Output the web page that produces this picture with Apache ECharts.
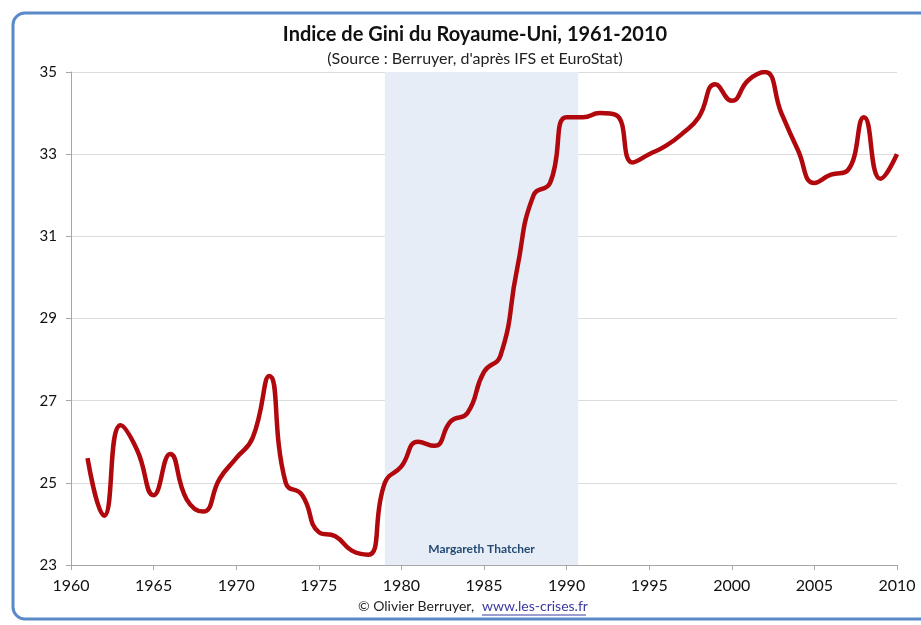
<!DOCTYPE html>
<html>
<head>
<meta charset="utf-8">
<script src="https://cdn.jsdelivr.net/npm/echarts@6/dist/echarts.min.js"></script>
<style>
  html, body { margin: 0; padding: 0; background: #fff; }
  #chart { width: 921px; height: 625px; }
</style>
</head>
<body>
<div id="chart"></div>
<script>
var years = [1961, 1962, 1963, 1964, 1965, 1966, 1967, 1968, 1969, 1970,
    1971, 1972, 1973, 1974, 1975, 1976, 1977, 1978, 1979, 1980,
    1981, 1982, 1983, 1984, 1985, 1986, 1987, 1988, 1989, 1990,
    1991, 1992, 1993, 1994, 1995, 1996, 1997, 1998, 1999, 2000,
    2001, 2002, 2003, 2004, 2005, 2006, 2007, 2008, 2009, 2010];
var gini = [25.6, 24.2, 26.4, 25.8, 24.7, 25.7, 24.6, 24.3, 25.1, 25.6,
    26.1, 27.6, 25.0, 24.7, 23.8, 23.7, 23.35, 23.25, 25.0, 25.4,
    26.0, 25.9, 26.5, 26.7, 27.7, 28.1, 30.2, 32.0, 32.3, 33.9,
    33.9, 34.0, 33.95, 32.8, 33.0, 33.2, 33.5, 33.9, 34.7, 34.3,
    34.8, 35.0, 34.0, 33.1, 32.3, 32.5, 32.6, 33.9, 32.4, 33.0];
var yTicks = [23, 25, 27, 29, 31, 33, 35];
var thatcher = [1979, 1990.7];

var font = 'Lato, "Liberation Sans", sans-serif';
var myChart = echarts.init(document.getElementById('chart'));

var seriesData = years.map(function (y, i) { return [y, gini[i]]; });

var option = {
    backgroundColor: '#fff',
    animation: false,
    title: {
        text: 'Indice de Gini du Royaume-Uni, 1961-2010',
        subtext: "(Source : Berruyer, d'après IFS et EuroStat)",
        left: 470,
        textAlign: 'center',
        top: 20,
        itemGap: 6,
        textStyle: { fontFamily: font, fontSize: 20, fontWeight: 'bold', color: '#111' },
        subtextStyle: { fontFamily: font, fontSize: 16, color: '#222' }
    },
    grid: { left: 71, right: 24, top: 72, bottom: 60 },
    xAxis: {
        type: 'value',
        min: 1960,
        max: 2010,
        interval: 5,
        axisLine: { lineStyle: { color: '#a6a6a6' } },
        axisTick: { show: true, length: 5, lineStyle: { color: '#a6a6a6' } },
        axisLabel: {
            fontFamily: font, fontSize: 16, color: '#111', margin: 13,
            formatter: function (v) { return String(v); }
        },
        splitLine: { show: false }
    },
    yAxis: {
        type: 'value',
        min: yTicks[0],
        max: yTicks[yTicks.length - 1],
        interval: 2,
        axisLine: { show: true, lineStyle: { color: '#a6a6a6' } },
        axisTick: { show: true, length: 5, lineStyle: { color: '#a6a6a6' } },
        axisLabel: { fontFamily: font, fontSize: 15, color: '#111', margin: 14 },
        splitLine: { lineStyle: { color: '#dcdcdc' } }
    },
    series: [{
        type: 'line',
        data: seriesData,
        smooth: 0.5,
        symbol: 'none',
        lineStyle: { color: '#b0080c', width: 4.5 },
        markArea: {
            silent: true,
            itemStyle: { color: '#e6edf6' },
            label: {
                position: 'insideBottom',
                distance: 10,
                fontFamily: font,
                fontSize: 12,
                fontWeight: 'bold',
                color: '#244a74'
            },
            data: [[
                { name: 'Margareth Thatcher', xAxis: thatcher[0] },
                { xAxis: thatcher[1] }
            ]]
        },
        z: 3
    }],
    graphic: [{
        type: 'rect',
        shape: { x: 13, y: 13, width: 940, height: 606, r: 12 },
        style: { fill: 'none', stroke: '#5a8ac9', lineWidth: 3 },
        silent: true
    }, {
        type: 'text',
        left: 358,
        top: 599,
        style: { text: '© Olivier Berruyer, ', fontFamily: font, fontSize: 14, fill: '#222' }
    }, {
        type: 'text',
        left: 482,
        top: 599,
        style: { text: 'www.les-crises.fr', fontFamily: font, fontSize: 14, fill: '#3a3aa0' }
    }, {
        type: 'line',
        shape: { x1: 482, y1: 615, x2: 586, y2: 615 },
        style: { stroke: '#3a3aa0', lineWidth: 1 }
    }]
};
myChart.setOption(option);
</script>
</body>
</html>
